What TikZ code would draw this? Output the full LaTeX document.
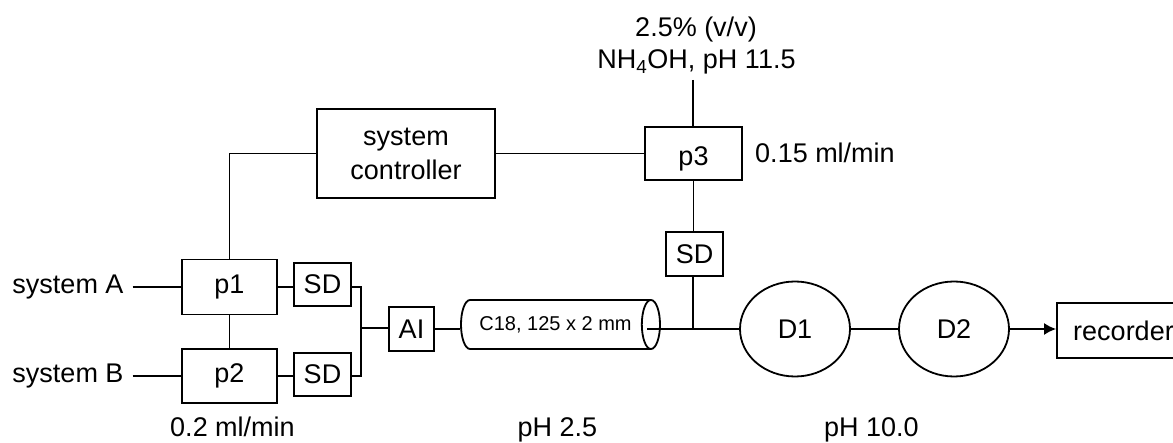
\documentclass[tikz,border=0pt]{standalone}
\usepackage{fontspec}
\setmainfont{Liberation Sans}
\usetikzlibrary{%
  arrows.meta,%
  calc,%
  shapes.geometric,%
  positioning}
\tikzset{
  box/.style={rectangle,draw,line width=1.8pt,inner sep=0pt},
  detector/.style={ellipse,draw,line width=1.8pt,inner sep=0pt,minimum width=110pt,minimum height=95pt},
  tube/.style={line width=1.8pt},
  lbl/.style={inner sep=0pt,anchor=base}
}
\begin{document}
\begin{tikzpicture}[x=1pt,y=-1pt,every node/.append style={font=\fontsize{27}{30}\selectfont}]
\useasboundingbox (0,0) rectangle (1173,443);
% boxes and names
\node (p1) at (229.5,287) [box,minimum width=95pt,minimum height=55pt] {p1};
\node (p2) at (229.5,376) [box,minimum width=95pt,minimum height=54pt] {p2};
\node (SD1) at (322.5,284.5) [box,minimum width=57pt,minimum height=43pt] {SD};
\node (SD2) at (322.5,374.5) [box,minimum width=57pt,minimum height=43pt] {SD};
\node (AI) at (411.5,329) [box,minimum width=45pt,minimum height=44pt] {AI};
\node (col) at (555.5,324.5) [cylinder,draw,line width=1.8pt,inner sep=0pt,minimum height=199pt,minimum width=49pt,aspect=1.1,font=\fontsize{20}{24}\selectfont] {C18, 125 x 2 mm};
\node (ctrl) at (406,153.5) [box,minimum width=178pt,minimum height=89pt,align=center] {system\\[4pt]controller};
\node (p3) at (693.5,153.5) [box,minimum width=97pt,minimum height=53pt,text height=29pt] {p3};
\node (SD3) at (694.5,254) [box,minimum width=57pt,minimum height=44pt] {SD};
\node (D1) at (795,329) [detector] {D1};
\node (D2) at (954,329) [detector] {D2};
\node (rec) at (1123.5,330.5) [box,minimum width=133pt,minimum height=55pt] {recorder};
% labels
\node (sysA) at (68,294) [lbl,outer sep=9pt] {system A};
\node (sysB) at (68,383) [lbl,outer sep=9pt] {system B};
\node (conc) at (696,37) [lbl] {2.5\% (v/v)};
\node (base) at (696.5,69) [lbl] {NH\textsubscript{4}OH, pH 11.5};
\node (rate3) at (825,163) [lbl] {0.15 ml/min};
\node (rate1) at (232.5,436) [lbl] {0.2 ml/min};
\node (ph1) at (557.5,436) [lbl] {pH 2.5};
\node (ph2) at (871.5,436) [lbl] {pH 10.0};
% free ends and junctions
\coordinate (merge) at (361,328);
\coordinate (outlet) at (647,329);
\coordinate (tee) at (693,329);
\coordinate (feed) at (693,80);
% connectors
\draw[tube] (sysA.east |- p1) -- (p1);
\draw[tube] (sysB.east |- p2) -- (p2);
\draw[tube] (p1) -- (p2);
\draw[tube] (p1) -- (p1 -| SD1.west);
\draw[tube] (p2) -- (p2 -| SD2.west);
\draw[tube] (SD1.east |- p1) -| (merge);
\draw[tube] (SD2.east |- p2) -| (merge);
\draw[tube] (merge) -- (merge -| AI.west);
\draw[tube] (AI) -- (AI -| col.west);
\draw[tube] (p1) |- (ctrl);
\draw[tube] (ctrl) -- (p3);
\draw[tube] (p3 |- p3.south) -- (p3 |- SD3.north);
\draw[tube] (SD3.south -| tee) -- (tee);
\draw[tube] (outlet) -- (D1);
\draw[tube] (D1) -- (D2);
\draw[tube,-{Latex[length=12pt,width=12pt]}] (D2) -- (D2 -| rec.west);
\draw[tube] (feed) -- (feed |- p3.north);
\end{tikzpicture}
\end{document}
